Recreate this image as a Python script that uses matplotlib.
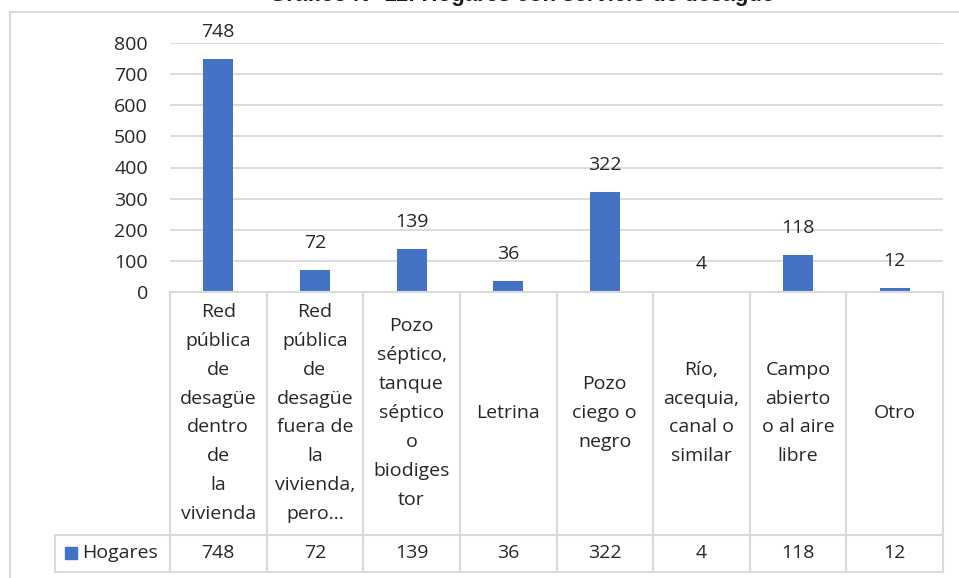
import matplotlib
matplotlib.use("Agg")
import matplotlib.pyplot as plt
from matplotlib.transforms import blended_transform_factory
from matplotlib.patches import Rectangle
from matplotlib.lines import Line2D

categories = [
    "Red\npública\nde\ndesagüe\ndentro\nde\nla\nvivienda",
    "Red\npública\nde\ndesagüe\nfuera de\nla\nvivienda,\npero...",
    "Pozo\nséptico,\ntanque\nséptico\no\nbiodiges\ntor",
    "Letrina",
    "Pozo\nciego o\nnegro",
    "Río,\nacequia,\ncanal o\nsimilar",
    "Campo\nabierto\no al aire\nlibre",
    "Otro",
]
hogares = [748, 72, 139, 36, 322, 4, 118, 12]
series_name = "Hogares"
yticks = [0, 100, 200, 300, 400, 500, 600, 700, 800]
title = "Gráfico N° 11: Hogares con servicio de desagüe"

BLUE = "#4472C4"
GRID = "#D9D9D9"
TXT = "#262626"
FONT = ["Open Sans", "DejaVu Sans"]
plt.rcParams["font.family"] = FONT
FS = 14

W, H = 959, 578
fig = plt.figure(figsize=(W / 100, H / 100), dpi=100)

def fx(px):
    return px / W

def fy(py):
    return 1 - py / H

# outer frame (chart border)
fig.add_artist(Line2D([fx(10), fx(10)], [fy(12), fy(578)], color=GRID, lw=1.5, transform=fig.transFigure))
fig.add_artist(Line2D([fx(10), fx(959)], [fy(12), fy(12)], color=GRID, lw=1.5, transform=fig.transFigure))
# title above the chart frame (clipped by the page edge as in the reference)
fig.text(fx(522), fy(1), title, ha="center", va="baseline", fontsize=16,
         fontweight="bold", color="#1a1a1a", family=["Liberation Sans", "DejaVu Sans"])

ax = fig.add_axes([fx(170), fy(292), fx(943) - fx(170), fy(43) - fy(292)])
n = len(categories)
x = list(range(n))
ax.bar(x, hogares, width=0.31, color=BLUE, zorder=3)
ax.set_xlim(-0.5, n - 0.5)
ax.set_ylim(0, 800)
ax.set_yticks(yticks)
ax.set_yticklabels([str(t) for t in yticks], fontsize=FS, color=TXT)
ax.tick_params(axis="y", length=0, pad=16)
ax.set_xticks([])
ax.grid(axis="y", color=GRID, lw=1.3, zorder=0)
for s in ax.spines.values():
    s.set_visible(False)

for xi, v in zip(x, hogares):
    ax.annotate(str(v), (xi, v), xytext=(0, 13), textcoords="offset points",
                ha="center", va="bottom", fontsize=FS, color=TXT, clip_on=False)

# data table
tr = blended_transform_factory(ax.transData, fig.transFigure)
y_top, y_mid, y_bot = fy(292), fy(535), fy(572)
lw = 1.5
fig.add_artist(Line2D([-0.5, n - 0.5], [y_top, y_top], color=GRID, lw=lw, transform=tr))
fig.add_artist(Line2D([fx(55), fx(943)], [y_mid, y_mid], color=GRID, lw=lw, transform=fig.transFigure))
fig.add_artist(Line2D([fx(55), fx(943)], [y_bot, y_bot], color=GRID, lw=lw, transform=fig.transFigure))
fig.add_artist(Line2D([fx(55), fx(55)], [y_mid, y_bot], color=GRID, lw=lw, transform=fig.transFigure))
for i in range(n + 1):
    fig.add_artist(Line2D([i - 0.5, i - 0.5], [y_top, y_bot], color=GRID, lw=lw, transform=tr))

for xi, cat, v in zip(x, categories, hogares):
    fig.text(xi, fy(413), cat, transform=tr, ha="center", va="center",
             fontsize=FS, color=TXT, linespacing=1.78, multialignment="center")
    fig.text(xi, (y_mid + y_bot) / 2, str(v), transform=tr, ha="center", va="center",
             fontsize=FS, color=TXT)

fig.add_artist(Rectangle((fx(65), fy(559)), fx(77) - fx(65), fy(547) - fy(559),
                         color=BLUE, transform=fig.transFigure))
fig.text(fx(82), (y_mid + y_bot) / 2, series_name, ha="left", va="center",
         fontsize=FS, color=TXT)

fig.savefig("out.png", dpi=100)
